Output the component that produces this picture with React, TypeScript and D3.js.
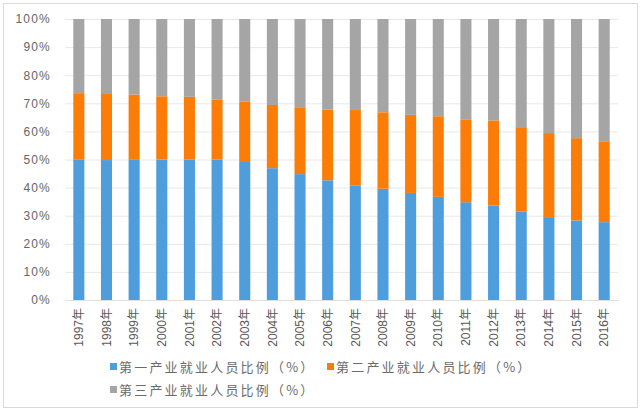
import React, { useEffect, useRef } from 'react';
import * as d3 from 'd3';

const years = [
  '1997年', '1998年', '1999年', '2000年', '2001年', '2002年', '2003年', '2004年', '2005年', '2006年',
  '2007年', '2008年', '2009年', '2010年', '2011年', '2012年', '2013年', '2014年', '2015年', '2016年',
];
const primary = [49.9, 49.8, 50.1, 50.0, 50.0, 50.0, 49.1, 46.9, 44.8, 42.6, 40.8, 39.6, 38.1, 36.7, 34.8, 33.6, 31.4, 29.5, 28.3, 27.7];
const secondary = [23.7, 23.5, 23.0, 22.5, 22.3, 21.4, 21.6, 22.5, 23.8, 25.2, 26.8, 27.2, 27.8, 28.7, 29.5, 30.3, 30.1, 29.9, 29.3, 28.8];
const tertiary = primary.map((p, i) => +(100 - p - secondary[i]).toFixed(1));

const seriesNames = ['第一产业就业人员比例（%）', '第二产业就业人员比例（%）', '第三产业就业人员比例（%）'];
const seriesColors = ['#4e9ddd', '#fb7d08', '#a5a5a5'];

const W = 641;
const H = 412;

const App: React.FC = () => {
  const ref = useRef<SVGSVGElement>(null);

  useEffect(() => {
    if (!ref.current) return;
    const svg = d3.select(ref.current);
    svg.selectAll('*').remove();

    const margin = { top: 19, left: 65, right: 23, bottom: 112 };
    const width = W - margin.left - margin.right;
    const height = H - margin.top - margin.bottom;

    svg
      .append('rect')
      .attr('x', 3.5)
      .attr('y', 3.5)
      .attr('width', W - 7)
      .attr('height', H - 8)
      .attr('fill', 'white')
      .attr('stroke', '#d9d9d9');

    const g = svg.append('g').attr('transform', `translate(${margin.left}, ${margin.top})`);

    const rows = years.map((y, i) => ({ year: y, p: primary[i], s: secondary[i], t: tertiary[i] }));
    const stack = d3.stack<any>().keys(['p', 's', 't'])(rows);

    const xScale = d3.scaleBand().domain(years).range([0, width]).paddingInner(0.6).paddingOuter(0.3);
    const yScale = d3.scaleLinear().domain([0, 100]).range([height, 0]);

    const yAxisG = g.append('g');
    yAxisG.call(
      d3
        .axisLeft(yScale)
        .ticks(10)
        .tickSize(-width)
        .tickPadding(14)
        .tickFormat((d) => `${d}%`)
    );
    yAxisG.select('.domain').remove();
    yAxisG.selectAll('.tick line').attr('stroke', '#e8e8e8');
    yAxisG
      .selectAll('.tick text')
      .attr('fill', '#666')
      .style('font-size', '12px')
      .style('letter-spacing', '1.2px')
      .style('font-family', '"Liberation Sans", sans-serif');

    g.selectAll('.layer')
      .data(stack)
      .enter()
      .append('g')
      .attr('fill', (_d, i) => seriesColors[i])
      .selectAll('rect')
      .data((d) => d)
      .enter()
      .append('rect')
      .attr('x', (d) => xScale(d.data.year) || 0)
      .attr('width', xScale.bandwidth())
      .attr('y', (d) => yScale(d[1]))
      .attr('height', (d) => yScale(d[0]) - yScale(d[1]));

    const xAxisG = g.append('g').attr('transform', `translate(0, ${height})`);
    xAxisG.call(d3.axisBottom(xScale).tickSize(0).tickPadding(0));
    xAxisG.select('.domain').attr('stroke', '#e0e0e0');
    xAxisG
      .selectAll('.tick text')
      .attr('fill', '#595959')
      .style('font-size', '12px')
      .style('font-family', '"Liberation Sans", "Noto Sans CJK SC", sans-serif')
      .attr('text-anchor', 'end')
      .attr('transform', 'translate(0, 8) rotate(-90)')
      .attr('x', 0)
      .attr('y', 0)
      .attr('dy', '0.35em');

    const legendPos = [
      [110, 367],
      [327, 367],
      [110, 390],
    ];
    const legend = svg
      .append('g')
      .selectAll('g')
      .data(seriesNames)
      .enter()
      .append('g')
      .attr('transform', (_d, i) => `translate(${legendPos[i][0]}, ${legendPos[i][1]})`);
    legend
      .append('rect')
      .attr('x', 0)
      .attr('y', -4)
      .attr('width', 7)
      .attr('height', 7)
      .attr('fill', (_d, i) => seriesColors[i]);
    legend
      .append('text')
      .attr('x', 9)
      .attr('dy', '0.35em')
      .attr('fill', '#6b6b6b')
      .style('font-size', '13px')
      .style('letter-spacing', '2.2px')
      .style('font-family', '"Noto Sans CJK SC", sans-serif')
      .text((d) => d);
  }, []);

  return <svg ref={ref} width={W} height={H} style={{ position: 'absolute', left: 0, top: 0 }} />;
};

export default App;
